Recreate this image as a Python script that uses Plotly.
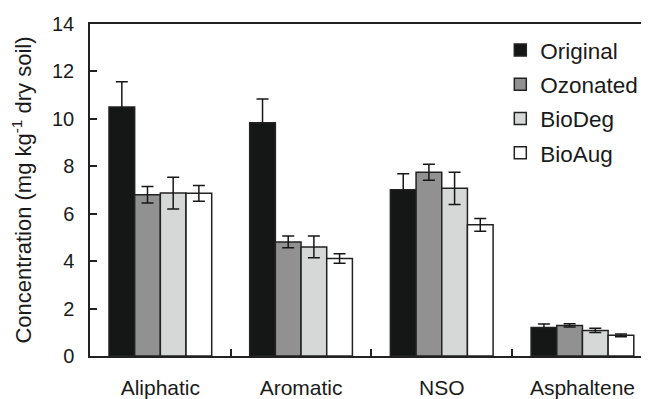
import plotly.graph_objects as go

categories = ["Aliphatic", "Aromatic", "NSO", "Asphaltene"]
series_names = ["Original", "Ozonated", "BioDeg", "BioAug"]
original = [10.5, 9.84, 7.01, 1.20]
original_err = [1.07, 1.0, 0.67, 0.15]
ozonated = [6.80, 4.81, 7.75, 1.29]
ozonated_err = [0.35, 0.25, 0.34, 0.07]
biodeg = [6.87, 4.60, 7.07, 1.08]
biodeg_err = [0.67, 0.46, 0.68, 0.09]
bioaug = [6.86, 4.11, 5.53, 0.87]
bioaug_err = [0.33, 0.20, 0.27, 0.06]
y_ticks = [0, 2, 4, 6, 8, 10, 12, 14]

values = [original, ozonated, biodeg, bioaug]
errors = [original_err, ozonated_err, biodeg_err, bioaug_err]
colors = ["#151716", "#909190", "#d6d8d7", "#ffffff"]

FONT = "Liberation Sans, Arial, Helvetica, sans-serif"
fig = go.Figure()
for name, v, e, c in zip(series_names, values, errors, colors):
    fig.add_trace(go.Bar(
        x=categories, y=v, name=name, legendgroup=name,
        marker=dict(color=c, line=dict(color="#222222", width=1.5)),
        error_y=dict(type="data", array=e, visible=True, color="#161716",
                     thickness=1.5, width=6),
    ))

# page body has an 8px margin, so the figure is offset by 8px
fig.update_layout(
    width=641, height=391,
    margin=dict(l=82, r=0, t=16, b=41),
    paper_bgcolor="white", plot_bgcolor="white",
    barmode="group", bargap=0.27, bargroupgap=0,
    font=dict(family=FONT, size=20, color="#1a1a1a"),
    showlegend=True,
    legend=dict(x=0.734, y=0.985, xanchor="left", yanchor="top",
                font=dict(size=22.5, color="#1a1a1a"),
                traceorder="grouped", tracegroupgap=2,
                bgcolor="rgba(0,0,0,0)"),
)
fig.update_xaxes(
    type="category", range=[-0.5, 3.473],
    showline=True, linecolor="#222222", linewidth=1.5, mirror=True,
    ticks="inside", tickson="boundaries", ticklen=7, tickwidth=1.5, tickcolor="#222222",
    ticklabelstandoff=12, tickfont=dict(size=21),
    showgrid=False, zeroline=False,
)
fig.update_yaxes(
    range=[0, 14], tickvals=y_ticks,
    showline=True, linecolor="#222222", linewidth=1.5, mirror=False,
    ticks="inside", ticklen=7, tickwidth=1.5, tickcolor="#222222",
    ticklabelstandoff=10, tickfont=dict(size=20),
    showgrid=False, zeroline=False,
    title=dict(text="Concentration (mg kg<sup>-1</sup> dry soil)", font=dict(size=22), standoff=14),
)
fig.write_html("out.html")
